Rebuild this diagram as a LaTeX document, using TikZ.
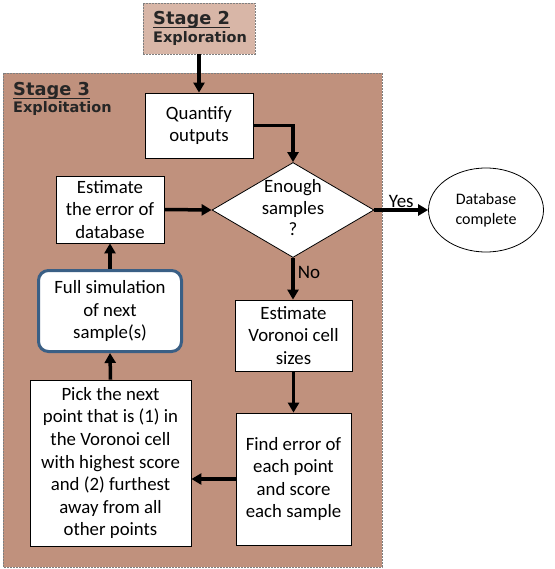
\documentclass[tikz,border=0pt]{standalone}
\usepackage{fontspec}
\setmainfont{Carlito}
\newfontfamily\stagefont{DejaVu Sans}
\usetikzlibrary{shapes.geometric,arrows.meta}
\definecolor{sthreefill}{HTML}{C0917D}
\definecolor{stwofill}{HTML}{D8B6A7}
\definecolor{simborder}{HTML}{3A5F85}
\definecolor{stagetext}{HTML}{262626}
\definecolor{dashgray}{HTML}{7F7F7F}
\tikzset{
  stagebox/.style={draw=dashgray, line width=0.6pt, dash pattern=on 2pt off 1pt},
  box/.style={draw=black, line width=0.8pt, fill=white, align=center, inner sep=0pt,
              font=\fontsize{18.8}{22.6}\selectfont},
  simbox/.style={box, draw=simborder, line width=3pt, rounded corners=10pt},
  arr/.style={line width=3.5pt, -{Triangle[length=10pt,width=11pt]}},
  lbl/.style={font=\fontsize{19}{22.5}\selectfont, inner sep=1pt},
  stagebig/.style={font=\stagefont\bfseries\fontsize{17.8}{20}\selectfont, text=stagetext, inner sep=0pt},
  stagesmall/.style={font=\stagefont\bfseries\fontsize{14.5}{16}\selectfont, text=stagetext, inner sep=0pt},
  uline/.style={draw=stagetext, line width=1.6pt}
}
\begin{document}
\begin{tikzpicture}[x=1pt,y=-1pt]
\useasboundingbox[fill=white] (0,0) rectangle (554,569);
% Stage 3 background
\draw[stagebox, fill=sthreefill] (3,73) rectangle (382,567);
\node[stagebig, anchor=base west] (sthreea) at (13,96) {Stage 3};
\draw[uline] ([yshift=-2.5pt]sthreea.base west) -- ([yshift=-2.5pt]sthreea.base east);
\node[stagesmall, anchor=base west] (sthreeb) at (13,113) {Exploitation};
% Stage 2
\node[stagebox, fill=stwofill, minimum width=112pt, minimum height=51pt, inner sep=0pt] (stwo) at (199,28.5) {};
\node[stagebig, anchor=base west] (stwoa) at (153,25) {Stage 2};
\draw[uline] ([yshift=-2.5pt]stwoa.base west) -- ([yshift=-2.5pt]stwoa.base east);
\node[stagesmall, anchor=base west] (stwob) at (153,43) {Exploration};
% Boxes
\node[box, minimum width=108pt, minimum height=65pt] (quant) at (199,125.5) {Quantify\\outputs};
\node[diamond, draw=black, line width=0.8pt, fill=white, minimum width=162pt, minimum height=95pt, inner sep=0pt] (dec) at (293,210) {};
\node[lbl, align=center, font=\fontsize{18.8}{21.5}\selectfont] (dectext) at (293,208) {Enough\\samples\\?};
\node[ellipse, draw=black, line width=0.8pt, fill=white, minimum width=115pt, minimum height=84pt, inner sep=0pt, align=center, font=\fontsize{16}{20}\selectfont] (db) at (486,210) {Database\\complete};
\node[box, minimum width=108pt, minimum height=67pt] (esterr) at (110,209.5) {Estimate\\the error of\\database};
\node[simbox, minimum width=143pt, minimum height=81pt] (full) at (110,311) {Full simulation\\of next\\sample(s)};
\node[box, minimum width=117pt, minimum height=71pt] (vor) at (293.5,335.5) {Estimate\\Voronoi cell\\sizes};
\node[box, minimum width=115pt, minimum height=132pt] (find) at (293.5,479) {Find error of\\each point\\and score\\each sample};
\node[box, minimum width=161pt, minimum height=166pt] (pick) at (110.5,463) {Pick the next\\point that is (1) in\\the Voronoi cell\\with highest score\\and (2) furthest\\away from all\\other points};
% Connectors
\draw[arr] (stwo.south) -- (stwo.south |- quant.north);
\draw[arr] (quant.east) -| (dec.north);
\draw[arr] (esterr.east) -- (dec.west);
\draw[arr] (dec.east) -- node[lbl, above=0pt] (yes) {Yes} (db.west);
\draw[arr] (dec.south) -- node[lbl, right=2pt, pos=0.35] (no) {No} (vor.north -| dec.south);
\draw[arr] (vor.south) -- (find.north);
\draw[arr] (find.west) -- (pick.east |- find.west);
\draw[arr] (pick.north) -- (full.south);
\draw[arr] (full.north) -- (esterr.south);
\end{tikzpicture}
\end{document}
